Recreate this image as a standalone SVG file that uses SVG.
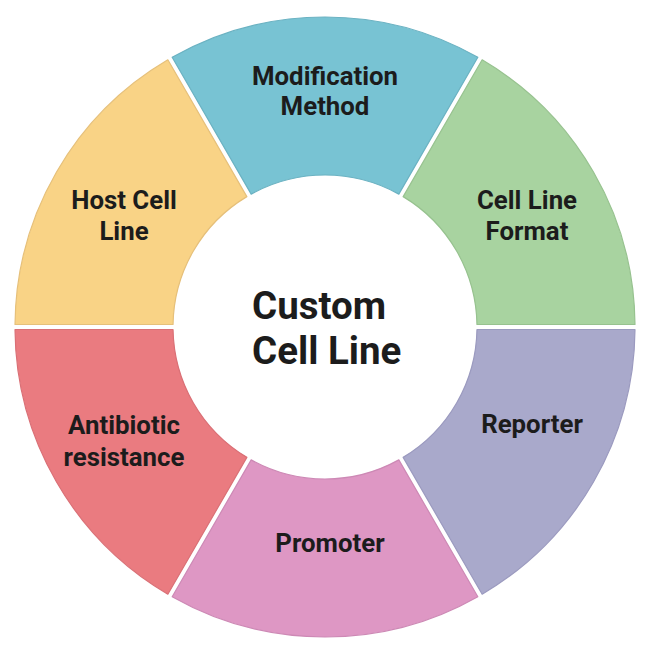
<svg xmlns="http://www.w3.org/2000/svg" width="650" height="656" viewBox="0 0 650 656">
<style>
.seg{stroke-width:1.2;stroke-linejoin:round}
.lbl{font-family:Roboto,"Liberation Sans",sans-serif;font-weight:700;font-size:25.8px;fill:#1c1c1c;text-anchor:middle}
.title{font-family:Roboto,"Liberation Sans",sans-serif;font-weight:700;font-size:38.5px;fill:#1c1c1c}
</style>
<rect width="650" height="656" fill="#ffffff"/>
<g id="connectors"></g>
<g id="node-modification-method">
<path class="seg" fill="#78C3D3" stroke="#6BB2C2" d="M 172.17 57.29 A 310 310 0 0 1 477.83 57.29 L 398.83 194.13 A 152 152 0 0 0 251.18 194.13 Z"/>
<text class="lbl" x="325" y="85">Modification</text>
<text class="lbl" x="325" y="115">Method</text>
</g>
<g id="node-cell-line-format">
<path class="seg" fill="#A8D3A0" stroke="#97C28F" d="M 482.16 59.79 A 310 310 0 0 1 634.99 324.5 L 476.98 324.5 A 152 152 0 0 0 403.16 196.63 Z"/>
<text class="lbl" x="527" y="209">Cell Line</text>
<text class="lbl" x="527" y="240">Format</text>
</g>
<g id="node-reporter">
<path class="seg" fill="#A9A9CB" stroke="#9B9ABF" d="M 634.99 329.5 A 310 310 0 0 1 482.16 594.21 L 403.16 457.37 A 152 152 0 0 0 476.98 329.5 Z"/>
<text class="lbl" x="532" y="433">Reporter</text>
</g>
<g id="node-promoter">
<path class="seg" fill="#DE97C4" stroke="#CD89B5" d="M 477.83 596.71 A 310 310 0 0 1 172.17 596.71 L 251.18 459.87 A 152 152 0 0 0 398.83 459.87 Z"/>
<text class="lbl" x="330" y="552">Promoter</text>
</g>
<g id="node-antibiotic-resistance">
<path class="seg" fill="#EA7B80" stroke="#DA7076" d="M 167.84 594.21 A 310 310 0 0 1 15.01 329.5 L 173.02 329.5 A 152 152 0 0 0 246.85 457.37 Z"/>
<text class="lbl" x="124" y="434">Antibiotic</text>
<text class="lbl" x="124" y="466">resistance</text>
</g>
<g id="node-host-cell-line">
<path class="seg" fill="#F9D386" stroke="#E6C07A" d="M 15.01 324.5 A 310 310 0 0 1 167.84 59.79 L 246.85 196.63 A 152 152 0 0 0 173.02 324.5 Z"/>
<text class="lbl" x="124" y="209">Host Cell</text>
<text class="lbl" x="124" y="240">Line</text>
</g>
<g id="node-custom-cell-line">
<text class="title" x="252" y="319">Custom</text>
<text class="title" x="252" y="364">Cell Line</text>
</g>
</svg>
